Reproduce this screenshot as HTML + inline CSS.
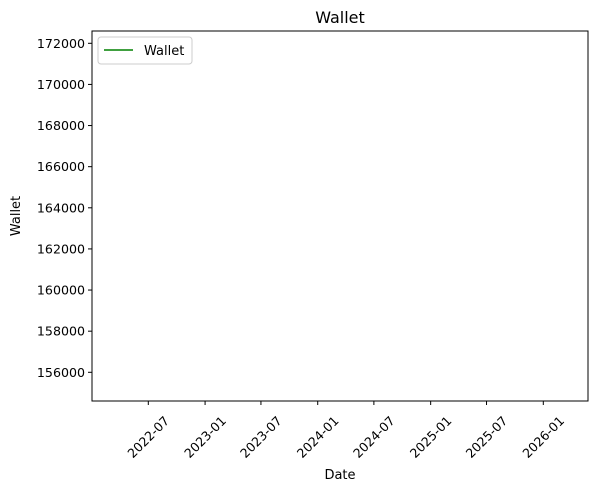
<!DOCTYPE html>
<html><head><meta charset="utf-8"><style>
body{margin:0;background:#fff;}
svg{display:block;font-family:"DejaVu Sans","Liberation Sans",sans-serif;}
</style></head><body>
<svg id="chart" width="598" height="491">
<rect x="0" y="0" width="598" height="491" fill="#fff"/>
<text x="340" y="23" font-size="16" text-anchor="middle">Wallet</text>
<g id="yticks"></g>
<g id="xticks"></g>
<g id="series"></g>
<rect x="92" y="31" width="496" height="370" fill="none" stroke="#000" stroke-width="1"/>
<text x="340" y="479" font-size="13" text-anchor="middle">Date</text>
<text transform="translate(20,216) rotate(-90)" font-size="13" text-anchor="middle">Wallet</text>
<g>
<rect x="98" y="37" width="94" height="27" rx="3" fill="#fff" stroke="#ccc"/>
<line x1="104" y1="50" x2="133" y2="50" stroke="green" stroke-width="1.5"/>
<text x="144" y="55" font-size="13">Wallet</text>
</g>
</svg>
<script>
const yTickValues=[156000,158000,160000,162000,164000,166000,168000,170000,172000];
const xTickLabels=["2022-07","2023-01","2023-07","2024-01","2024-07","2025-01","2025-07","2026-01"];
const dates=["2024-04-01"];
const values=[163600];
const NS="http://www.w3.org/2000/svg";
function yScale(v){return 372.3-(v-156000)*(372.3-43.3)/16000;}
const d0=Date.UTC(2022,6,1),d1=Date.UTC(2026,0,1);
function xScale(s){const p=s.split("-");const t=Date.UTC(+p[0],+p[1]-1,p[2]?+p[2]:1);return 148.3+(t-d0)/(d1-d0)*(543.3-148.3);}
const yg=document.getElementById("yticks");
yTickValues.forEach(v=>{
 const y=yScale(v);
 const l=document.createElementNS(NS,"line");
 l.setAttribute("x1",88);l.setAttribute("x2",92);l.setAttribute("y1",y);l.setAttribute("y2",y);l.setAttribute("stroke","#000");
 
 
 yg.appendChild(l);
 const t=document.createElementNS(NS,"text");
 t.setAttribute("x",85);t.setAttribute("y",y+4.5);t.setAttribute("font-size","12.6");t.setAttribute("text-anchor","end");
 t.textContent=v;
 
 
 yg.appendChild(t);
});
const xg=document.getElementById("xticks");
xTickLabels.forEach(s=>{
 const x=xScale(s);
 const l=document.createElementNS(NS,"line");
 l.setAttribute("x1",x);l.setAttribute("x2",x);l.setAttribute("y1",401);l.setAttribute("y2",405);l.setAttribute("stroke","#000");
 
 
 xg.appendChild(l);
 const t=document.createElementNS(NS,"text");
 t.setAttribute("font-size","12.6");t.setAttribute("text-anchor","middle");
 t.setAttribute("dominant-baseline","central");
 t.setAttribute("transform","translate("+x+",437) rotate(-45)");
 t.textContent=s;
 
 
 xg.appendChild(t);
});
const sg=document.getElementById("series");
let d="";
dates.forEach((s,i)=>{d+=(i?"L":"M")+xScale(s)+","+yScale(values[i]);});
const p=document.createElementNS(NS,"path");
p.setAttribute("d",d);p.setAttribute("stroke","green");p.setAttribute("stroke-width","1.5");p.setAttribute("fill","none");


sg.appendChild(p);
</script>
</body></html>
